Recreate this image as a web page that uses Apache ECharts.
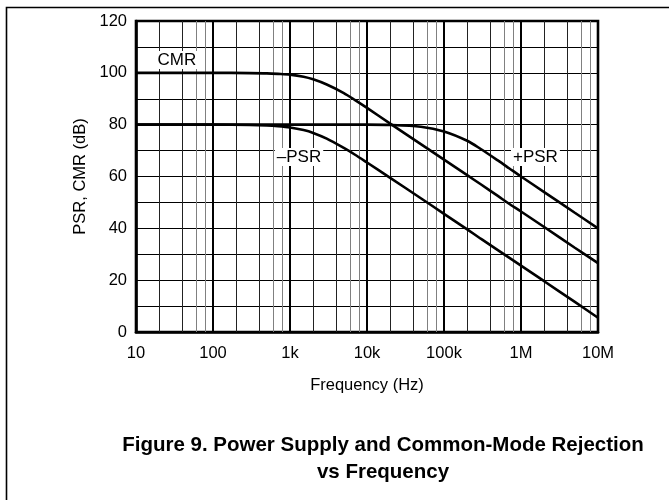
<!DOCTYPE html>
<html>
<head>
<meta charset="utf-8">
<script src="https://cdn.jsdelivr.net/npm/echarts@6/dist/echarts.min.js"></script>
<style>
  html, body { margin: 0; padding: 0; background: #fff; }
  #chart { width: 669px; height: 500px; }
</style>
</head>
<body>
<div id="chart"></div>
<script>
// Frequency points (Hz) shared by the three response curves
const freqHz = [10, 100, 300, 500, 700, 1000, 1500, 2000, 3000, 5000, 7000, 10000,
  20000, 50000, 100000, 200000, 300000, 500000, 700000, 1000000, 2000000, 5000000, 10000000];

// Rejection in dB at each frequency
const cmrDb = [100, 100, 99.9, 99.8, 99.6, 99.3, 98.5, 97.5, 95.5, 92.2, 89.5, 86.5,
  80.4, 72.5, 66.5, 60.5, 57.0, 52.5, 49.5, 46.5, 40.5, 32.5, 26.6];
const negPsrDb = [80, 80, 79.9, 79.7, 79.4, 78.9, 77.9, 76.8, 74.6, 71.0, 68.4, 65.4,
  59.5, 51.6, 45.6, 39.6, 36.0, 31.6, 28.7, 25.6, 19.6, 11.6, 5.5];
const posPsrDb = [80, 80, 80, 80, 80, 80, 80, 80, 80, 80, 80, 80,
  79.9, 79.2, 77.4, 73.8, 70.6, 66.2, 63.2, 60.0, 54.0, 46.0, 40.0];

// Curve names and where their tags sit (Hz, dB)
const curveNames = ['CMR', '\u2013PSR', '+PSR'];
const tagFreq = [34, 1310, 1540000];
const tagDb = [105, 67.5, 67.5];

// Axis tick labels, one per decade from 10 Hz to 10 MHz
const decadeHz = [10, 100, 1000, 10000, 100000, 1000000, 10000000];
const decadeLabels = ['10', '100', '1k', '10k', '100k', '1M', '10M'];
const yTicks = [0, 20, 40, 60, 80, 100, 120];

const FONT = '"Liberation Sans", Arial, Helvetica, sans-serif';

function pairs(xs, ys) { return xs.map((x, i) => [x, ys[i]]); }

// Vertical grid: thick at decades, dark at 2x/4x, grey at 6x/8x
const gridLines = [];
decadeHz.slice(1, -1).forEach(d => gridLines.push({ xAxis: d, lineStyle: { color: '#000', width: 2, type: 'solid' } }));
decadeHz.slice(0, -1).forEach(d => {
  [2, 4].forEach(m => gridLines.push({ xAxis: d * m, lineStyle: { color: '#222', width: 1, type: 'solid' } }));
  [6, 8].forEach(m => gridLines.push({ xAxis: d * m, lineStyle: { color: '#808080', width: 1, type: 'solid' } }));
});

const curveStyle = { color: '#000', width: 2.6 };

const chart = echarts.init(document.getElementById('chart'), null, { renderer: 'canvas' });
chart.setOption({
  animation: false,
  backgroundColor: '#fff',
  title: {
    text: 'Figure 9. Power Supply and Common-Mode Rejection\nvs Frequency',
    left: 378,
    top: 427,
    textAlign: 'center',
    textStyle: { fontFamily: FONT, fontWeight: 'bold', fontSize: 20.5, lineHeight: 27, color: '#000' }
  },
  graphic: [{
    type: 'rect',
    shape: { x: 6.5, y: 7.5, width: 720, height: 600 },
    style: { fill: 'none', stroke: '#000', lineWidth: 1.6 },
    silent: true, z: 100
  }],
  grid: {
    left: 136, right: 71, top: 21, bottom: 168,
    show: true, borderColor: '#000', borderWidth: 2.6, backgroundColor: 'transparent'
  },
  xAxis: {
    type: 'log',
    logBase: 10,
    min: 10,
    max: 10000000,
    splitNumber: 6,
    name: 'Frequency (Hz)',
    nameLocation: 'middle',
    nameGap: 45,
    nameTextStyle: { fontFamily: FONT, fontSize: 16.5, color: '#000' },
    axisLine: { show: true, lineStyle: { color: '#000', width: 2.6 } },
    axisTick: { show: false },
    splitLine: { show: false },
    axisLabel: {
      margin: 13,
      fontFamily: FONT, fontSize: 16.5, color: '#000',
      formatter: v => {
        const i = decadeHz.indexOf(Math.pow(10, Math.round(Math.log10(v))));
        return i >= 0 ? decadeLabels[i] : '';
      }
    }
  },
  yAxis: {
    type: 'value',
    min: 0,
    max: 120,
    interval: 10,
    name: 'PSR, CMR (dB)',
    nameLocation: 'middle',
    nameGap: 35,
    nameTextStyle: { fontFamily: FONT, fontSize: 16.5, color: '#000' },
    axisLine: { show: true, lineStyle: { color: '#000', width: 2.6 } },
    axisTick: { show: false },
    splitLine: { show: true, lineStyle: { color: '#000', width: 1 } },
    axisLabel: {
      margin: 9,
      fontFamily: FONT, fontSize: 16.5, color: '#000',
      formatter: v => (yTicks.indexOf(v) >= 0 ? String(v) : '')
    }
  },
  series: [
    {
      type: 'line', data: [], z: 1, silent: true,
      markLine: { silent: true, symbol: 'none', label: { show: false }, data: gridLines }
    },
    { name: curveNames[0], type: 'line', data: pairs(freqHz, cmrDb), showSymbol: false, smooth: 0.3, lineStyle: curveStyle, z: 5 },
    { name: curveNames[1], type: 'line', data: pairs(freqHz, negPsrDb), showSymbol: false, smooth: 0.3, lineStyle: curveStyle, z: 5 },
    { name: curveNames[2], type: 'line', data: pairs(freqHz, posPsrDb), showSymbol: false, smooth: 0.3, lineStyle: curveStyle, z: 5 },
    {
      type: 'scatter', z: 10, silent: true, symbolSize: 0,
      itemStyle: { opacity: 1 },
      data: tagFreq.map((f, i) => ({ value: [f, tagDb[i]], name: curveNames[i] })),
      label: {
        show: true, position: 'inside',
        formatter: p => p.name,
        fontFamily: FONT, fontSize: 17, color: '#000',
        textBorderWidth: 0, textBorderColor: 'transparent',
        backgroundColor: '#fff', padding: [1, 2, 0, 2]
      }
    }
  ]
});
</script>
</body>
</html>
